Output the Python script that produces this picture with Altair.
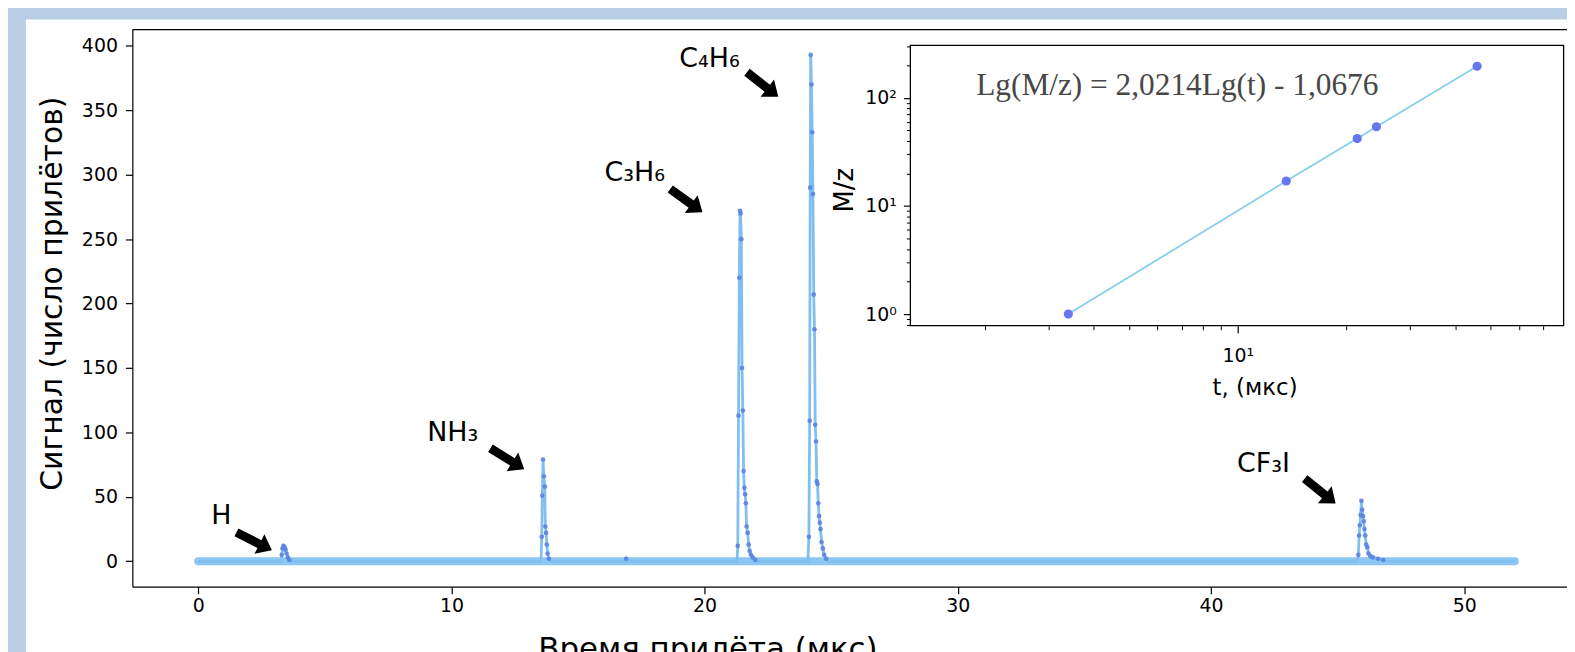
import altair as alt
import pandas as pd

BG = "#b9cde5"
LINE = "#80bfef"
BAND = "#8cc7f2"
DOT = "#5b83e0"

# ---------------- main spectrum (time, signal) ----------------
spec_t = [0.0, 3.26, 3.30, 3.33, 3.37, 3.41, 3.45, 3.49, 3.54, 3.60, 3.70,
          13.54, 13.57, 13.59, 13.62, 13.65, 13.69, 13.71, 13.74, 13.77, 13.80, 13.85, 13.92,
          16.85, 16.90, 16.95,
          21.28, 21.31, 21.34, 21.37, 21.40, 21.42, 21.45, 21.48, 21.51, 21.54, 21.57, 21.60,
          21.63, 21.66, 21.70, 21.74, 21.78, 21.83, 21.90, 22.00, 22.10,
          24.08, 24.12, 24.15, 24.17, 24.19, 24.22, 24.25, 24.28, 24.31, 24.34, 24.37, 24.40,
          24.43, 24.46, 24.49, 24.52, 24.55, 24.58, 24.62, 24.67, 24.72, 24.80, 24.90,
          45.78, 45.82, 45.85, 45.88, 45.91, 45.94, 45.97, 46.00, 46.03, 46.06, 46.09, 46.13,
          46.17, 46.22, 46.30, 46.40, 46.60, 46.80, 47.00, 52.0]
spec_s = [0, 0, 5, 10, 12, 11, 9, 6, 3, 1, 0,
          0, 19, 51, 79, 66, 58, 27, 22, 13, 6, 2, 0,
          0, 2, 0,
          0, 12, 113, 220, 272, 270, 250, 150, 117, 70, 57, 52,
          45, 27, 22, 13, 8, 5, 3, 1, 0,
          0, 19, 109, 290, 393, 370, 333, 285, 207, 180, 106, 93,
          62, 60, 45, 35, 30, 25, 15, 10, 5, 2, 0,
          0, 5, 20, 28, 36, 47, 40, 35, 31, 25, 20, 13,
          11, 6, 4, 3, 2, 1, 0, 0]
base_start = [0.0]
base_end = [52.0]
base_level = [0]

# ---------------- annotations ----------------
ann_label = ["H", "NH₃", "C₃H₆", "C₄H₆", "CF₃I"]
ann_text_t = [0.91, 10.05, 17.24, 20.19, 42.07]
ann_text_s = [35.2, 99.4, 301.2, 390.0, 75.4]
arrow_t = [2.21, 12.21, 19.28, 22.29, 44.31]
arrow_s = [15.5, 79.6, 279.9, 370.0, 54.5]
arrow_angle = [27, 32, 36, 38, 39]

# ---------------- inset (log-log calibration) ----------------
ins_t = [3.4, 13.62, 21.40, 24.19, 45.94]
ins_mz = [1, 17, 42, 54, 196]
ins_x_dom = [1.243, 79.7]
ins_y_dom = [0.78, 305]
eq_text = ["Lg(M/z) = 2,0214Lg(t) - 1,0676"]
eq_t = [1.89]
eq_mz = [128]

X_DOM = [-2.6, 54.06]
Y_DOM = [-19.7, 412.7]
W, H = 1442, 560

xs = alt.Scale(domain=X_DOM, nice=False, zero=False)
ys = alt.Scale(domain=Y_DOM, nice=False, zero=False)

FONT = "DejaVu Sans"
main_x_axis = alt.Axis(values=[0, 10, 20, 30, 40, 50], title="Время прилёта (мкс)", grid=False,
                       tickSize=7, tickWidth=1.2, tickColor="black", domainColor="black",
                       domainWidth=1.2, labelFontSize=19, labelFont=FONT, labelColor="black",
                       labelPadding=3, titleFont=FONT, titleFontSize=31, titleFontWeight="normal",
                       titleColor="black", titleX=578, titleY=63, titleBaseline="middle",
                       labelFlush=False, zindex=1)
main_y_axis = alt.Axis(values=list(range(0, 401, 50)), title="Сигнал (число прилётов)", grid=False,
                       tickSize=7, tickWidth=1.2, tickColor="black", domainColor="black",
                       domainWidth=1.2, labelFontSize=19, labelFont=FONT, labelColor="black",
                       labelPadding=8, titleFont=FONT, titleFontSize=30, titleFontWeight="normal",
                       titleColor="black", titleX=-80, titleY=265, titleBaseline="middle",
                       labelFlush=False, zindex=1)

white = alt.Chart(pd.DataFrame({"a": [0]})).mark_rect(color="white").encode(
    x=alt.value(-107), x2=alt.value(W + 60), y=alt.value(-10), y2=alt.value(H + 200))

band = alt.Chart(pd.DataFrame({"t0": base_start, "t1": base_end, "s": base_level})).mark_rule(
    color=BAND, strokeWidth=8, strokeCap="round").encode(
    x=alt.X("t0:Q", scale=xs, axis=main_x_axis), x2="t1",
    y=alt.Y("s:Q", scale=ys, axis=main_y_axis))

spec_df = pd.DataFrame({"t": spec_t, "s": spec_s})
line = alt.Chart(spec_df).mark_line(color=LINE, strokeWidth=2.8).encode(
    x=alt.X("t:Q", scale=xs), y=alt.Y("s:Q", scale=ys))
dots = alt.Chart(spec_df[spec_df.s > 0.5]).mark_circle(size=22, color=DOT, opacity=0.9).encode(
    x=alt.X("t:Q", scale=xs), y=alt.Y("s:Q", scale=ys))

top_rule = alt.Chart(pd.DataFrame({"t0": [X_DOM[0]], "t1": [X_DOM[1]], "s": [Y_DOM[1]]})).mark_rule(
    color="black", strokeWidth=1.2).encode(
    x=alt.X("t0:Q", scale=xs), x2="t1", y=alt.Y("s:Q", scale=ys))

ARROW = "M -1 -0.22 L 0.3 -0.22 L 0.3 -0.55 L 1 0 L 0.3 0.55 L 0.3 0.22 L -1 0.22 Z"
arr_df = pd.DataFrame({"t": arrow_t, "s": arrow_s, "ang": arrow_angle})
arrows = alt.Chart(arr_df).mark_point(shape=ARROW, filled=True, color="black", size=1600,
                                      opacity=1, strokeWidth=0).encode(
    x=alt.X("t:Q", scale=xs), y=alt.Y("s:Q", scale=ys), angle=alt.Angle("ang:Q", scale=None))

lab_df = pd.DataFrame({"t": ann_text_t, "s": ann_text_s, "lab": ann_label})
labels = alt.Chart(lab_df).mark_text(font=FONT, fontSize=27, color="black", baseline="middle").encode(
    x=alt.X("t:Q", scale=xs), y=alt.Y("s:Q", scale=ys), text="lab:N")

main = alt.layer(white, band, line, dots, top_rule, arrows, labels)

# ---------------- inset ----------------
ixs = alt.Scale(type="log", domain=ins_x_dom, range=[782, 1438.6], nice=False)
iys = alt.Scale(type="log", domain=ins_y_dom, range=[297.7, 16], nice=False)

common = dict(grid=False, tickColor="black", zindex=2)
ins_x_major = alt.Axis(orient="bottom", offset=-262.3, values=[10], labelExpr="'10¹'",
                       tickSize=7, tickWidth=1.2, domain=False, labelFontSize=19, labelFont=FONT,
                       labelColor="black", labelPadding=14, title="t, (мкс)", titleFont=FONT,
                       titleFontSize=23, titleFontWeight="normal", titleColor="black",
                       titleX=1128, titleY=62, titleBaseline="middle", **common)
ins_x_minor = alt.Axis(orient="bottom", offset=-262.3,
                       values=[2, 3, 4, 5, 6, 7, 8, 9, 20, 30, 40, 50, 60, 70],
                       labels=False, tickSize=4, tickWidth=1, domain=False, title=None, **common)
ins_y_major = alt.Axis(orient="left", offset=-782, values=[1, 10, 100],
                       labelExpr="datum.value == 1 ? '10⁰' : (datum.value == 10 ? '10¹' : '10²')",
                       tickSize=7, tickWidth=1.2, domain=False, labelFontSize=19, labelFont=FONT,
                       labelColor="black", labelPadding=7, title="M/z", titleFont=FONT,
                       titleFontSize=26, titleFontWeight="normal", titleColor="black",
                       titleX=-66, titleY=161, titleBaseline="middle", **common)
ins_y_minor = alt.Axis(orient="left", offset=-782,
                       values=[0.8, 0.9, 2, 3, 4, 5, 6, 7, 8, 9, 20, 30, 40, 50, 60, 70, 80, 90, 200, 300],
                       labels=False, tickSize=4, tickWidth=1, domain=False, title=None, **common)

frame = alt.Chart(pd.DataFrame({"x0": [ins_x_dom[0]], "x1": [ins_x_dom[1]],
                                "y0": [ins_y_dom[0]], "y1": [ins_y_dom[1]]})).mark_rect(
    fill="white", stroke="black", strokeWidth=1.3).encode(
    x=alt.X("x0:Q", scale=ixs, axis=ins_x_major), x2="x1",
    y=alt.Y("y0:Q", scale=iys, axis=ins_y_major), y2="y1")

ins_df = pd.DataFrame({"t": ins_t, "mz": ins_mz})
ins_line = alt.Chart(ins_df).mark_line(color="#87ceeb", strokeWidth=1.8).encode(
    x=alt.X("t:Q", scale=ixs, axis=ins_x_minor), y=alt.Y("mz:Q", scale=iys, axis=ins_y_minor))
ins_pts = alt.Chart(ins_df).mark_circle(size=85, color="#6676ee", opacity=1).encode(
    x=alt.X("t:Q", scale=ixs, axis=None), y=alt.Y("mz:Q", scale=iys, axis=None))
eq = alt.Chart(pd.DataFrame({"t": eq_t, "mz": eq_mz, "txt": eq_text})).mark_text(
    font="Liberation Serif", fontSize=31.5, color="#474747", align="left", baseline="middle").encode(
    x=alt.X("t:Q", scale=ixs, axis=None), y=alt.Y("mz:Q", scale=iys, axis=None), text="txt:N")

inset = alt.layer(frame, ins_line, ins_pts, eq).resolve_axis(x="independent", y="independent")

chart = alt.layer(main, inset).resolve_scale(x="independent", y="independent").properties(
    width=W, height=H,
    autosize=alt.AutoSizeParams(type="none"),
    padding={"left": 125, "top": 20, "right": 0, "bottom": 64},
    background=BG,
).configure_view(stroke=None)

chart.save("out.html", embed_options={"renderer": "svg", "actions": False})
